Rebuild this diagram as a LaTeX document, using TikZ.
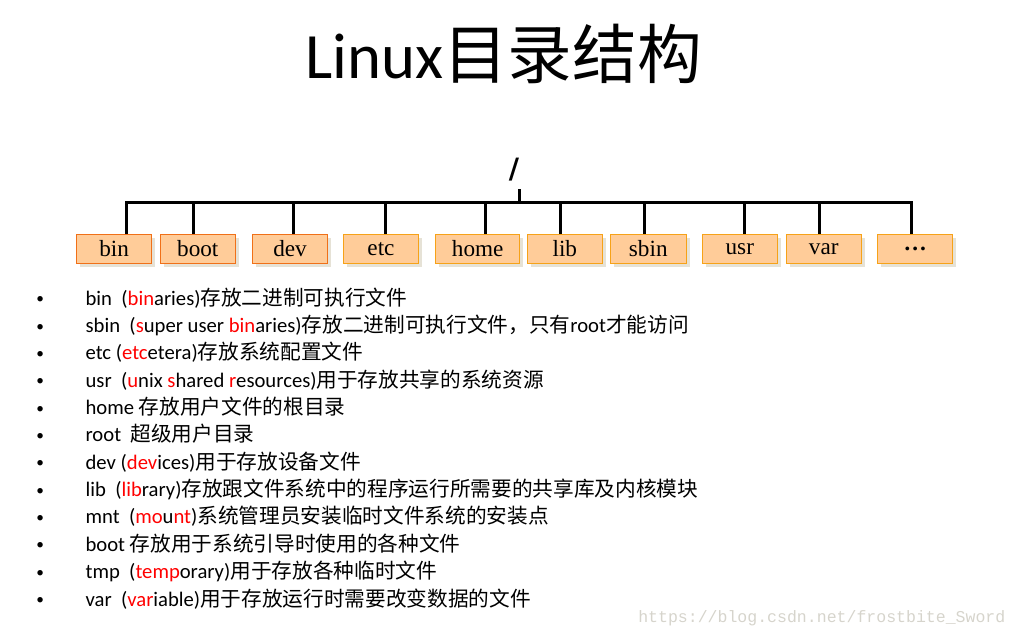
\documentclass[tikz,border=0pt]{standalone}
\usepackage{fontspec}
\setmainfont{Liberation Serif}
\newfontfamily\calfont{Carlito}
\newfontfamily\cjkfont{Noto Sans CJK SC}
\newfontfamily\webfont{Liberation Mono}
\newfontfamily\rootfont{DejaVu Sans}
\usepackage{xcolor}
\usetikzlibrary{shadows}
\definecolor{boxfill}{RGB}{255,204,153}
\definecolor{edgered}{RGB}{240,112,24}
\definecolor{edgeamber}{RGB}{246,162,24}
\definecolor{shadegray}{RGB}{230,226,214}
\definecolor{hlred}{RGB}{255,0,0}
\definecolor{wmgray}{RGB}{214,212,204}
\newcommand{\zh}[1]{{\cjkfont #1}}
\newcommand{\hl}[1]{\textcolor{hlred}{#1}}
\newcommand{\itemdot}{\makebox[37pt][l]{\raisebox{1pt}{\fontsize{11.5}{12}\selectfont\textbullet}}}

\begin{document}
\begin{tikzpicture}[
  x=0.75pt, y=-0.75pt,
  dirbox/.style={draw=edgeamber, line width=0.8pt, fill=boxfill, minimum width=56.25pt, minimum height=21.75pt,
    inner sep=0pt, font=\fontsize{17.4}{20}\selectfont,
    drop shadow={shadow xshift=2.4pt, shadow yshift=-2.4pt, fill=shadegray, opacity=1}},
  reddir/.style={dirbox, draw=edgered},
  tree/.style={line width=2.3pt},
  entry/.style={anchor=base west, inner sep=0pt, font=\calfont\fontsize{15.5}{18}\selectfont}
]
  \useasboundingbox (0,0) rectangle (1017,637);

  % title
  \node[anchor=base, inner sep=0pt, font=\calfont\fontsize{48.5}{56}\selectfont] (title) at (503.5,78) {Linux\zh{目录结构}};

  % tree
  \node[inner sep=0pt, font=\rootfont\bfseries\fontsize{21}{24}\selectfont] (root) at (514,170) {/};

  \node[reddir] (bin)  at (114.2,248.8) {bin};
  \node[reddir] (boot) at (197.8,248.8) {boot};
  \node[reddir] (dev)  at (290.0,248.8) {dev};
  \node[dirbox] (etc)  at (381.0,248.8) {etc};
  \node[dirbox, minimum width=63pt] (home) at (477.7,248.8) {home};
  \node[dirbox] (lib)  at (564.8,248.8) {lib};
  \node[dirbox, minimum width=57pt] (sbin) at (648.3,248.8) {sbin};
  \node[dirbox] (usr)  at (739.8,248.8) {usr};
  \node[dirbox] (var)  at (823.8,248.8) {var};
  \node[dirbox] (more) at (915.3,248.8) {\bfseries …};

  \coordinate (stem)  at (519.3,189);
  \coordinate (dbin)  at (126.7,202.7);
  \coordinate (dboot) at (193.3,202.7);
  \coordinate (ddev)  at (293.3,202.7);
  \coordinate (detc)  at (385.3,202.7);
  \coordinate (dhome) at (485.3,202.7);
  \coordinate (dlib)  at (560.3,202.7);
  \coordinate (dsbin) at (644.3,202.7);
  \coordinate (dusr)  at (744.3,202.7);
  \coordinate (dvar)  at (819.3,202.7);
  \coordinate (dmore) at (911.3,202.7);

  \draw[tree] (stem) -- (stem |- dbin);
  \draw[tree] (dbin |- bin.north) -- (dbin) -- (dmore) -- (dmore |- more.north);
  \draw[tree] (dboot) -- (dboot |- boot.north);
  \draw[tree] (ddev) -- (ddev |- dev.north);
  \draw[tree] (detc) -- (detc |- etc.north);
  \draw[tree] (dhome) -- (dhome |- home.north);
  \draw[tree] (dlib) -- (dlib |- lib.north);
  \draw[tree] (dsbin) -- (dsbin |- sbin.north);
  \draw[tree] (dusr) -- (dusr |- usr.north);
  \draw[tree] (dvar) -- (dvar |- var.north);

  % list of directories
  \node[entry] (l1)  at (36,305.0) {\itemdot bin~ (\hl{bin}aries)\zh{存放二进制可执行文件}};
  \node[entry] (l2)  at (36,332.4) {\itemdot sbin~ (\hl{s}uper user \hl{bin}aries)\zh{存放二进制可执行文件，只有}root\zh{才能访问}};
  \node[entry] (l3)  at (36,359.7) {\itemdot etc (\hl{etc}etera)\zh{存放系统配置文件}};
  \node[entry] (l4)  at (36,387.1) {\itemdot usr~ (\hl{u}nix \hl{s}hared \hl{r}esources)\zh{用于存放共享的系统资源}};
  \node[entry] (l5)  at (36,414.4) {\itemdot home \zh{存放用户文件的根目录}};
  \node[entry] (l6)  at (36,441.8) {\itemdot root~ \zh{超级用户目录}};
  \node[entry] (l7)  at (36,469.2) {\itemdot dev (\hl{dev}ices)\zh{用于存放设备文件}};
  \node[entry] (l8)  at (36,496.5) {\itemdot lib~ (\hl{lib}rary)\zh{存放跟文件系统中的程序运行所需要的共享库及内核模块}};
  \node[entry] (l9)  at (36,523.9) {\itemdot mnt~ (\hl{mo}u\hl{nt})\zh{系统管理员安装临时文件系统的安装点}};
  \node[entry] (l10) at (36,551.2) {\itemdot boot \zh{存放用于系统引导时使用的各种文件}};
  \node[entry] (l11) at (36,578.6) {\itemdot tmp~ (\hl{temp}orary)\zh{用于存放各种临时文件}};
  \node[entry] (l12) at (36,606.0) {\itemdot var~ (\hl{var}iable)\zh{用于存放运行时需要改变数据的文件}};

  \node[anchor=base west, inner sep=0pt, text=wmgray, font=\webfont\fontsize{12.4}{14}\selectfont] (mark) at (638,622) {https://blog.csdn.net/frostbite\_Sword};
\end{tikzpicture}
\end{document}
